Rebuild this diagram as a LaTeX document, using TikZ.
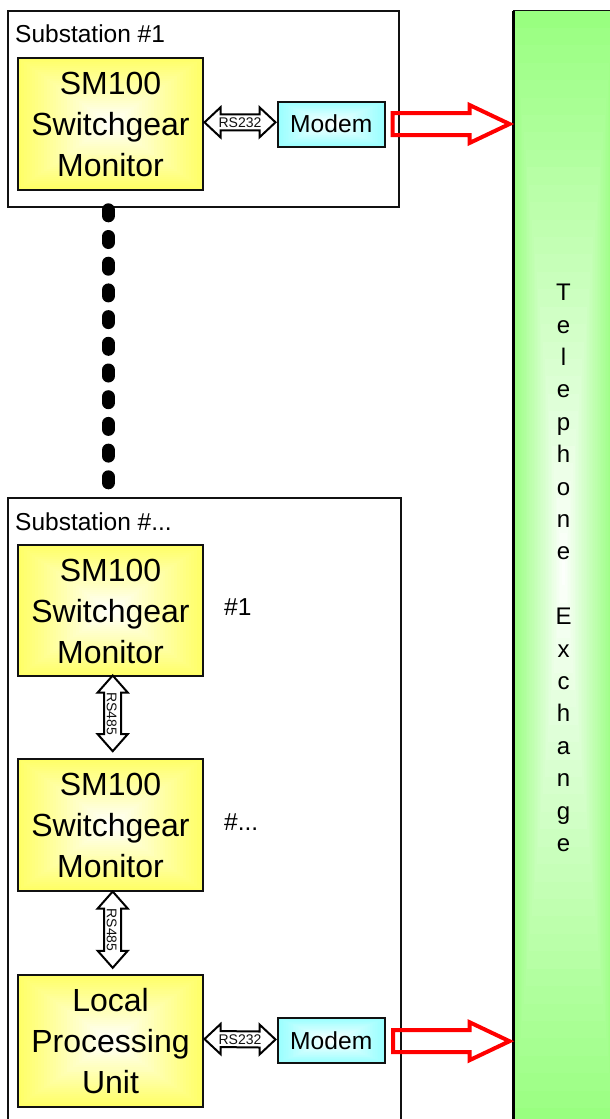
\documentclass[tikz,border=0pt]{standalone}
\usepackage{fontspec}
\setmainfont{Liberation Sans}
\usetikzlibrary{calc}
\definecolor{inkc}{HTML}{111111}
\definecolor{yedge}{HTML}{FFFF66}
\definecolor{cedge}{HTML}{99FFFF}
\definecolor{gedge}{HTML}{99FF80}
\definecolor{redc}{HTML}{FF0000}
\newcommand{\topstrut}{\rule{0pt}{24.2pt}}
\tikzset{
  gradfill/.style={path picture={
    \foreach \i in {0,...,31}{
      \pgfmathtruncatemacro{\p}{100-\i*100/32}
      \fill[#1!\p!white] ($(path picture bounding box.south west)!\i/64!(path picture bounding box.north east)$)
        rectangle ($(path picture bounding box.north east)!\i/64!(path picture bounding box.south west)$);
    }}},
  station/.style={draw=inkc,line width=2pt,fill=white,anchor=north west,inner sep=0pt,outer sep=0pt},
  monitor/.style={draw=inkc,line width=2pt,gradfill=yedge,anchor=north west,inner sep=0pt,outer sep=0pt,
    minimum width=185pt,minimum height=131.5pt,align=center,font=\fontsize{32}{41}\selectfont},
  modembox/.style={draw=inkc,line width=2pt,gradfill=cedge,anchor=north west,inner sep=0pt,outer sep=0pt,
    minimum width=107.5pt,minimum height=45pt,font=\fontsize{24.6}{29}\selectfont},
  exchbox/.style={draw=none,gradfill=gedge,anchor=north west,inner sep=0pt,outer sep=0pt,align=center,
    minimum width=101pt,minimum height=1115pt,font=\fontsize{24}{32.4}\selectfont},
  plainlabel/.style={anchor=base west,inner sep=0pt,font=\fontsize{24.5}{29}\selectfont,text=black},
  linklabel/.style={inner sep=0pt,font=\fontsize{14}{16}\selectfont,text=inkc},
  biarrow/.style={draw=black,line width=2pt,fill=white,line join=miter},
  bigarrow/.style={draw=redc,line width=4pt,line join=miter},
  dotline/.style={line width=13pt,line cap=round,dash pattern=on 6pt off 20.7pt}
}
\newcommand{\hbiarrow}[2]{%
  \draw[biarrow] #1 -- ($#1+(16,-15)$) -- ($#1+(16,-8)$) -- ($#2+(-16,-8)$) -- ($#2+(-16,-15)$) -- #2
    -- ($#2+(-16,15)$) -- ($#2+(-16,8)$) -- ($#1+(16,8)$) -- ($#1+(16,15)$) -- cycle;}
\newcommand{\vbiarrow}[2]{%
  \draw[biarrow] #1 -- ($#1+(-15,17)$) -- ($#1+(-8.5,17)$) -- ($#2+(-8.5,-17)$) -- ($#2+(-15,-17)$) -- #2
    -- ($#2+(15,-17)$) -- ($#2+(8.5,-17)$) -- ($#1+(8.5,17)$) -- ($#1+(15,17)$) -- cycle;}
\newcommand{\redarrow}[2]{%
  \draw[bigarrow] ($#2+(-40,-19)$) -- #2 -- ($#2+(-40,19)$) -- ($#2+(-40,11)$) -- ($#1+(0,11)$)
    -- ($#1+(0,-11)$) -- ($#2+(-40,-11)$) -- cycle;}
\begin{document}
\begin{tikzpicture}[x=1pt,y=-1pt]
\clip (0,0) rectangle (610,1119);
\useasboundingbox (0,0) rectangle (610,1119);
\fill[white] (0,0) rectangle (610,1119);

% frames
\node[station,minimum width=391pt,minimum height=196pt] (sub1) at (8,10.5) {};
\node[station,minimum width=392.5pt,minimum height=640pt] (sub2) at (8,498) {};
\node[plainlabel] (sub1label) at (15,42) {Substation \#1};
\node[plainlabel] (sub2label) at (15,530) {Substation \#...};

% exchange
\node[exchbox] (exch) at (513,10.5) {T\\e\\l\\e\\p\\h\\o\\n\\e\\~\\E\\x\\c\\h\\a\\n\\g\\e};
\draw[inkc,line width=1.5pt] (exch.north west) -- (exch.north east);
\draw[black,line width=3pt] (exch.north west) -- (exch.south west);

% monitors
\node[monitor] (sm1) at (18,58) {\topstrut SM100\\Switchgear\\Monitor};
\node[modembox] (modem1) at (277.5,101.5) {Modem};
\node[monitor] (sm2) at (18,544.5) {\topstrut SM100\\Switchgear\\Monitor};
\node[monitor] (sm3) at (18,759) {\topstrut SM100\\Switchgear\\Monitor};
\node[monitor] (lpu) at (18,975) {Local\\Processing\\Unit};
\node[modembox] (modem2) at (277.5,1018) {Modem};
\node[plainlabel] (num1) at (224,615) {\#1};
\node[plainlabel] (num2) at (224,830) {\#...};

% RS232 links
\coordinate (a1) at ($(sm1.east)+(1.5,-1.4)$);
\coordinate (b1) at ($(modem1.west)+(-2,-1.7)$);
\hbiarrow{(a1)}{(b1)}
\node[linklabel] (rs1) at ($(a1)!.5!(b1)$) {RS232};
\coordinate (a2) at ($(lpu.east)+(1.5,-1.7)$);
\coordinate (b2) at ($(modem2.west)+(-2,-1)$);
\hbiarrow{(a2)}{(b2)}
\node[linklabel] (rs2) at ($(a2)!.5!(b2)$) {RS232};

% RS485 links
\coordinate (a3) at ($(sm2.south)+(2.2,-0.5)$);
\coordinate (b3) at ($(sm3.north)+(2.2,-7.8)$);
\vbiarrow{(a3)}{(b3)}
\node[linklabel,rotate=-90] (rs3) at ($(a3)!.5!(b3)+(-1,0.5)$) {RS485};
\coordinate (a4) at ($(sm3.south)+(2.2,1)$);
\coordinate (b4) at ($(lpu.north)+(2.2,-7.2)$);
\vbiarrow{(a4)}{(b4)}
\node[linklabel,rotate=-90] (rs4) at ($(a4)!.5!(b4)+(-1,0.5)$) {RS485};

% red arrows
\coordinate (s1) at ($(modem1.east)+(7.5,0)$);
\coordinate (t1) at ($(modem1.east -| exch.west)+(-3.5,0)$);
\redarrow{(s1)}{(t1)}
\coordinate (s2) at ($(modem2.east)+(8,0.7)$);
\coordinate (t2) at ($(modem2.east -| exch.west)+(-3.5,0.7)$);
\redarrow{(s2)}{(t2)}

% dotted link between substations
\coordinate (d1) at (108.3,209.8);
\coordinate (d2) at (108.3,486);
\draw[dotline] (d1) -- (d2);
\end{tikzpicture}
\end{document}
